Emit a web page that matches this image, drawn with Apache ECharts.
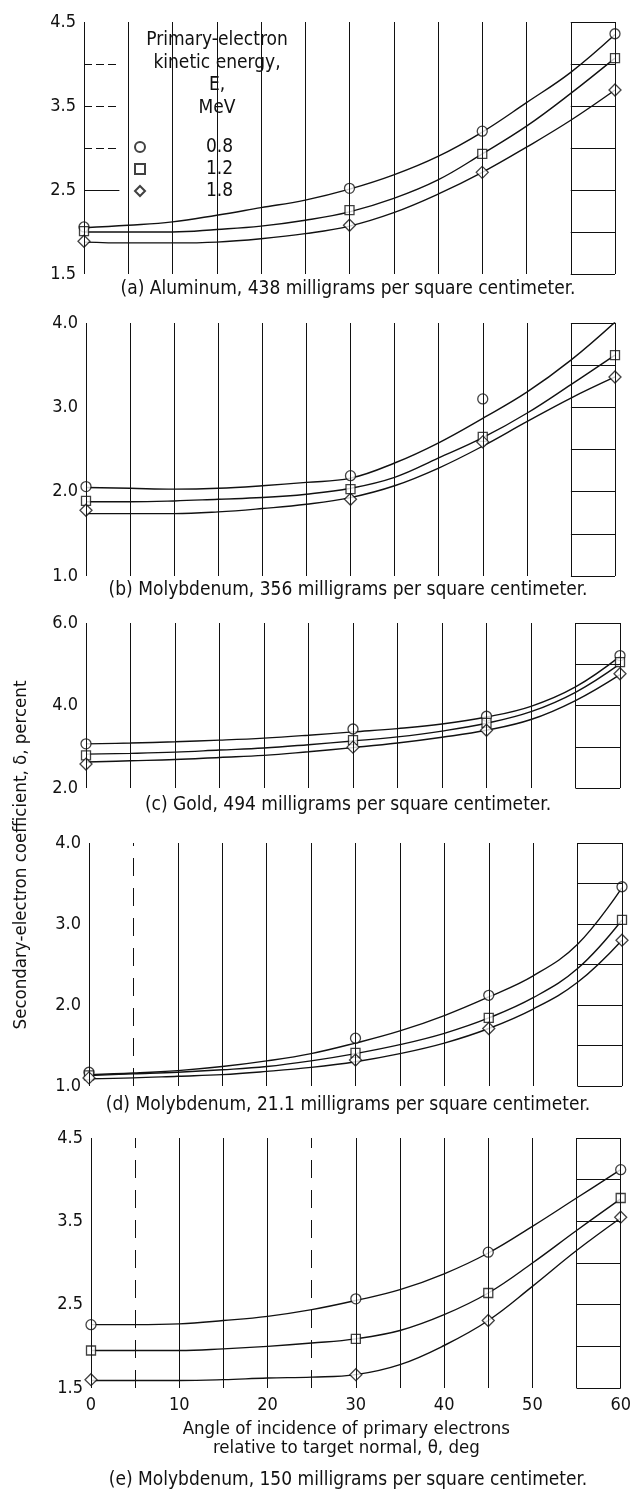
<!DOCTYPE html>
<html>
<head>
<meta charset="utf-8">
<script src="https://cdn.jsdelivr.net/npm/echarts@6/dist/echarts.min.js"></script>
<style>
  html, body { margin: 0; padding: 0; background: #fff; }
  #chart { width: 634px; height: 1500px; }
</style>
</head>
<body>
<div id="chart"></div>
<script>
// ---- data -------------------------------------------------------------
const energies = ['0.8', '1.2', '1.8'];          // primary-electron energy, MeV
const pointAngles = [0, 30, 45, 60];             // measured angles, deg
const curveAngles = [0, 5, 10, 15, 20, 25, 30, 35, 40, 45, 50, 55, 60]; // faired-curve readings

// (a) Aluminum, 438 mg/cm2
const alPts08 = [2.06, 2.52, 3.20, 4.36];
const alPts12 = [2.01, 2.26, 2.93, 4.07];
const alPts18 = [1.89, 2.08, 2.71, 3.69];
const alFit08 = [2.05, 2.08, 2.12, 2.20, 2.29, 2.38, 2.51, 2.68, 2.90, 3.19, 3.54, 3.90, 4.35];
const alFit12 = [2.00, 2.00, 2.00, 2.03, 2.07, 2.14, 2.24, 2.40, 2.62, 2.93, 3.26, 3.65, 4.07];
const alFit18 = [1.88, 1.87, 1.87, 1.88, 1.92, 1.98, 2.07, 2.23, 2.45, 2.71, 3.01, 3.33, 3.69];

// (b) Molybdenum, 356 mg/cm2
const mo356Pts08 = [2.06, 2.19, 3.10, 4.01];
const mo356Pts12 = [1.89, 2.03, 2.65, 3.62];
const mo356Pts18 = [1.78, 1.91, 2.59, 3.36];
const mo356Fit08 = [2.05, 2.04, 2.03, 2.04, 2.07, 2.11, 2.16, 2.34, 2.58, 2.87, 3.18, 3.56, 4.01];
const mo356Fit12 = [1.88, 1.88, 1.89, 1.91, 1.93, 1.97, 2.04, 2.17, 2.40, 2.64, 2.93, 3.27, 3.62];
const mo356Fit18 = [1.74, 1.74, 1.74, 1.76, 1.80, 1.85, 1.93, 2.07, 2.28, 2.54, 2.83, 3.11, 3.36];

// (c) Gold, 494 mg/cm2
const auPts08 = [3.07, 3.43, 3.74, 5.21];
const auPts12 = [2.79, 3.16, 3.58, 5.05];
const auPts18 = [2.58, 2.99, 3.40, 4.77];
const auFit08 = [3.07, 3.09, 3.12, 3.16, 3.21, 3.28, 3.36, 3.44, 3.55, 3.72, 3.98, 4.45, 5.19];
const auFit12 = [2.82, 2.84, 2.87, 2.92, 2.97, 3.05, 3.14, 3.24, 3.38, 3.57, 3.85, 4.32, 5.01];
const auFit18 = [2.63, 2.66, 2.69, 2.74, 2.79, 2.88, 2.98, 3.09, 3.23, 3.40, 3.66, 4.12, 4.75];

// (d) Molybdenum, 21.1 mg/cm2
const mo21Pts08 = [1.17, 1.59, 2.12, 3.46];
const mo21Pts12 = [1.13, 1.41, 1.84, 3.05];
const mo21Pts18 = [1.10, 1.32, 1.71, 2.80];
const mo21Fit08 = [1.14, 1.16, 1.19, 1.24, 1.31, 1.40, 1.53, 1.68, 1.87, 2.10, 2.36, 2.75, 3.45];
const mo21Fit12 = [1.13, 1.15, 1.17, 1.20, 1.24, 1.31, 1.40, 1.51, 1.65, 1.84, 2.09, 2.45, 3.05];
const mo21Fit18 = [1.09, 1.10, 1.12, 1.14, 1.18, 1.23, 1.30, 1.40, 1.53, 1.71, 1.95, 2.28, 2.80];

// (e) Molybdenum, 150 mg/cm2
const mo150Pts08 = [2.26, 2.57, 3.13, 4.12];
const mo150Pts12 = [1.95, 2.09, 2.64, 3.78];
const mo150Pts18 = [1.60, 1.66, 2.31, 3.55];
const mo150Fit08 = [2.26, 2.26, 2.27, 2.31, 2.36, 2.44, 2.55, 2.68, 2.87, 3.12, 3.44, 3.78, 4.12];
const mo150Fit12 = [1.95, 1.95, 1.95, 1.97, 2.00, 2.04, 2.09, 2.19, 2.38, 2.64, 3.00, 3.39, 3.77];
const mo150Fit18 = [1.59, 1.59, 1.59, 1.60, 1.62, 1.63, 1.66, 1.78, 2.01, 2.31, 2.72, 3.15, 3.54];

// y-axis ranges and tick steps for each panel
const yMins = [1.5, 1.0, 2.0, 1.0, 1.5];
const yMaxs = [4.5, 4.0, 6.0, 4.0, 4.5];
const yLabelSteps = [1, 1, 2, 1, 1];
const yMinorSteps = [0.5, 0.5, 1, 0.5, 0.5];
const xTickStep = 5;                              // vertical rules every 5 deg
const brokenRules = [[], [], [], [5], [5, 25]];   // rules drawn broken, per panel

const captions = [
  '(a) Aluminum, 438 milligrams per square centimeter.',
  '(b) Molybdenum, 356 milligrams per square centimeter.',
  '(c) Gold, 494 milligrams per square centimeter.',
  '(d) Molybdenum, 21.1 milligrams per square centimeter.',
  '(e) Molybdenum, 150 milligrams per square centimeter.'
];
const legendHeading = 'Primary-electron\nkinetic energy,\nE,\nMeV';
const yTitle = 'Secondary-electron coefficient, \u03b4, percent';
const xTitle = 'Angle of incidence of primary electrons\nrelative to target normal, \u03b8, deg';

// ---- layout & style ---------------------------------------------------
const FONT = '"DejaVu Sans Condensed", "Liberation Sans Narrow", "DejaVu Sans", sans-serif';
const INK = '#111111';
const gridBoxes = [
  { left: 84, top: 22,   width: 531, height: 252 },
  { left: 86, top: 323,  width: 529, height: 253 },
  { left: 86, top: 623,  width: 534, height: 165 },
  { left: 89, top: 843,  width: 533, height: 243 },
  { left: 91, top: 1138, width: 533, height: 250 }
];
const captionY = [289, 590, 805, 1105, 1480];
const symbols = ['circle', 'rect', 'diamond'];
const symbolSizes = [10, 9, 12];

const panelPts = [
  [alPts08, alPts12, alPts18],
  [mo356Pts08, mo356Pts12, mo356Pts18],
  [auPts08, auPts12, auPts18],
  [mo21Pts08, mo21Pts12, mo21Pts18],
  [mo150Pts08, mo150Pts12, mo150Pts18]
];
const panelFits = [
  [alFit08, alFit12, alFit18],
  [mo356Fit08, mo356Fit12, mo356Fit18],
  [auFit08, auFit12, auFit18],
  [mo21Fit08, mo21Fit12, mo21Fit18],
  [mo150Fit08, mo150Fit12, mo150Fit18]
];

function minorTicks(p) {
  const out = [];
  for (let v = yMins[p]; v <= yMaxs[p] + 1e-9; v += yMinorSteps[p]) out.push(+v.toFixed(2));
  return out;
}
function ruleAngles() {
  const out = [];
  for (let a = 0; a <= 60; a += xTickStep) out.push(a);
  return out;
}
const noLabel = { show: false };
const ruleStyle = { color: INK, width: 1, type: 'solid' };

const grids = [], xAxes = [], yAxes = [], series = [];
gridBoxes.forEach((g, p) => {
  const last = p === gridBoxes.length - 1;
  grids.push(Object.assign({ containLabel: false }, g));
  xAxes.push({
    type: 'value', gridIndex: p, min: 0, max: 60, interval: xTickStep,
    axisLine: { show: false }, axisTick: { show: false }, splitLine: { show: false },
    axisLabel: {
      show: last, margin: 8, color: INK, fontFamily: FONT, fontSize: 18,
      formatter: v => (v % 10 === 0 ? String(v) : '')
    },
    name: last ? xTitle : '',
    nameLocation: 'middle', nameGap: 32,
    nameTextStyle: { color: INK, fontFamily: FONT, fontSize: 18.5, lineHeight: 19, padding: [0, 19, 0, 0] }
  });
  yAxes.push({
    type: 'value', gridIndex: p, min: yMins[p], max: yMaxs[p], interval: yLabelSteps[p],
    axisLine: { show: false }, axisTick: { show: false }, splitLine: { show: false },
    axisLabel: { color: INK, fontFamily: FONT, fontSize: 18, margin: 8, formatter: v => v.toFixed(1) }
  });

  // vertical rules every 5 deg, plus short horizontal rules in the 55-60 deg column
  const vRules = ruleAngles().map(a => [
    { coord: [a, yMins[p]], lineStyle: brokenRules[p].includes(a) ? { color: INK, width: 1, type: [18, 12] } : ruleStyle },
    { coord: [a, yMaxs[p]] }
  ]);
  const hRules = minorTicks(p).map(v => [{ coord: [55, v], lineStyle: ruleStyle }, { coord: [60, v] }]);
  series.push({
    type: 'line', xAxisIndex: p, yAxisIndex: p, data: [], silent: true, z: 0,
    markLine: {
      silent: true, symbol: ['none', 'none'], label: noLabel, animation: false,
      lineStyle: ruleStyle, data: vRules.concat(hRules)
    }
  });

  // faired curves
  panelFits[p].forEach((arr, k) => {
    series.push({
      name: energies[k] + ' curve', type: 'line', xAxisIndex: p, yAxisIndex: p,
      data: curveAngles.map((a, i) => [a, arr[i]]),
      smooth: 0.4, showSymbol: false, silent: true, z: 2,
      lineStyle: { color: INK, width: 1.4 }
    });
  });
  // measured points
  panelPts[p].forEach((arr, k) => {
    series.push({
      name: energies[k], type: 'scatter', xAxisIndex: p, yAxisIndex: p,
      data: pointAngles.map((a, i) => [a, arr[i]]),
      symbol: symbols[k], symbolSize: symbolSizes[k], z: 3,
      itemStyle: { color: '#ffffff', borderColor: INK, borderWidth: 1.3 }
    });
  });
});

// broken rules in the left column of panel (a)
const alLeftDashed = [3.0, 3.5, 4.0];
const alLeftSolid = [2.5];
series.push({
  type: 'line', xAxisIndex: 0, yAxisIndex: 0, data: [], silent: true, z: 0,
  markLine: {
    silent: true, symbol: ['none', 'none'], label: noLabel, animation: false,
    data: alLeftDashed.map(v => [{ coord: [0, v], lineStyle: { type: [8, 4], color: INK, width: 1 } }, { coord: [4, v] }])
      .concat(alLeftSolid.map(v => [{ coord: [0, v], lineStyle: ruleStyle }, { coord: [4, v] }]))
  }
});

const graphics = [
  // blank panel behind the key
  { type: 'rect', shape: { x: 120, y: 28, width: 178, height: 170 }, style: { fill: '#ffffff' }, z: 1, silent: true },
  { type: 'text', x: 217, y: 29, z: 5, silent: true,
    style: { text: legendHeading, fill: INK, font: '19px ' + FONT, align: 'center', verticalAlign: 'top', lineHeight: 22.5 } },
  { type: 'text', x: 21, y: 855, rotation: Math.PI / 2, z: 5, silent: true,
    style: { text: yTitle, fill: INK, font: '18.5px ' + FONT, align: 'center', verticalAlign: 'middle' } }
].concat(captions.map((c, p) => ({
  type: 'text', x: 348, y: captionY[p], z: 5, silent: true,
  style: { text: c, fill: INK, font: '19px ' + FONT, align: 'center', verticalAlign: 'middle' }
})));

const chart = echarts.init(document.getElementById('chart'), null, { renderer: 'canvas' });
chart.setOption({
  backgroundColor: '#ffffff',
  animation: false,
  grid: grids,
  xAxis: xAxes,
  yAxis: yAxes,
  legend: {
    data: energies, orient: 'vertical', left: 129, top: 131, itemGap: 0,
    itemWidth: 10, itemHeight: 10, selectedMode: false, z: 6,
    textStyle: { color: INK, fontFamily: FONT, fontSize: 19, lineHeight: 22, padding: [0, 0, 0, 56] }
  },
  graphic: graphics,
  series: series
});
</script>
</body>
</html>
